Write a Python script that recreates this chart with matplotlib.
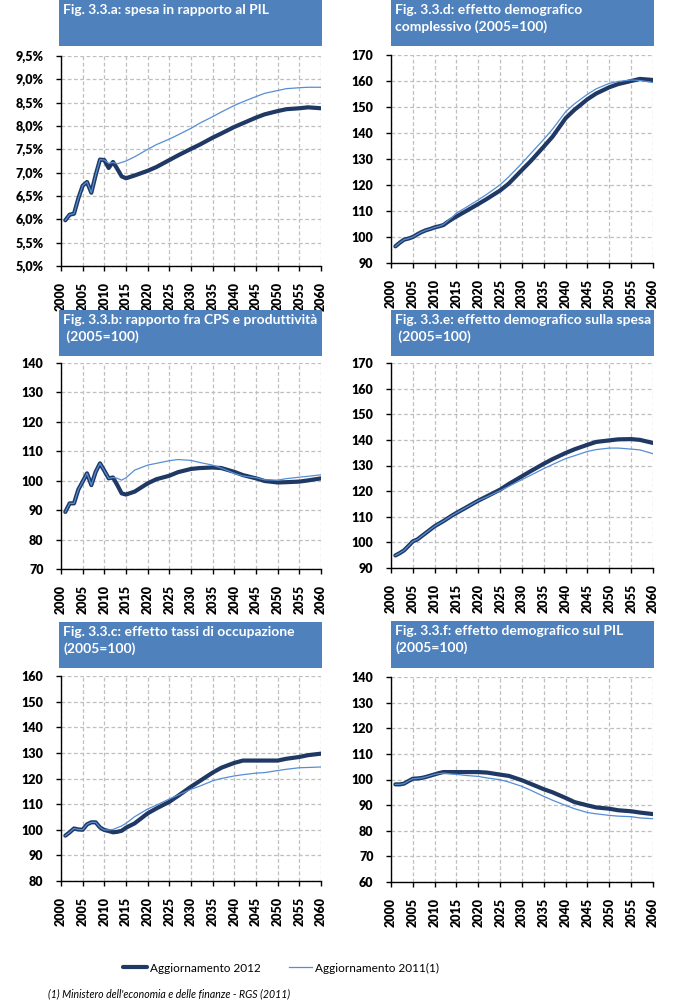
import matplotlib
matplotlib.use('Agg')
import matplotlib.pyplot as plt
from matplotlib.patches import Rectangle

plt.rcParams['font.family'] = ['Lato', 'DejaVu Sans']

# ---------------- data ----------------
years = [2001, 2002, 2003, 2004, 2005, 2006, 2007, 2008, 2009, 2010,
         2011, 2012, 2013, 2014, 2015, 2017, 2020, 2022, 2025, 2027,
         2030, 2032, 2035, 2037, 2040, 2042, 2045, 2047, 2050, 2052,
         2055, 2057, 2060]

# Fig. 3.3.a  spesa in rapporto al PIL (%)
a_2012 = [5.98, 6.10, 6.12, 6.45, 6.72, 6.80, 6.57, 6.95, 7.28, 7.27,
          7.10, 7.23, 7.08, 6.92, 6.88, 6.94, 7.04, 7.12, 7.27, 7.37,
          7.51, 7.60, 7.75, 7.84, 7.98, 8.06, 8.18, 8.25, 8.32, 8.36,
          8.38, 8.40, 8.38]
a_2011 = [5.98, 6.10, 6.12, 6.45, 6.72, 6.80, 6.57, 6.95, 7.28, 7.27,
          7.20, 7.22, 7.19, 7.22, 7.25, 7.34, 7.50, 7.60, 7.72, 7.81,
          7.95, 8.06, 8.20, 8.30, 8.44, 8.52, 8.63, 8.70, 8.76, 8.80,
          8.82, 8.83, 8.83]

# Fig. 3.3.b  rapporto fra CPS e produttivita
b_2012 = [89.4, 92.3, 92.3, 97.0, 99.7, 102.5, 98.5, 103.0, 105.9, 103.4,
          100.8, 101.1, 98.5, 95.7, 95.3, 96.3, 99.1, 100.5, 101.7, 102.9,
          104.0, 104.3, 104.5, 104.3, 103.0, 101.9, 100.8, 99.9, 99.4, 99.5,
          99.7, 100.1, 100.8]
b_2011 = [89.4, 92.3, 92.3, 97.0, 99.7, 102.5, 98.5, 103.0, 105.9, 103.4,
          100.8, 101.1, 100.8, 100.2, 101.0, 103.6, 105.3, 105.9, 106.8, 107.2,
          106.9, 106.2, 105.3, 104.3, 102.5, 101.6, 101.0, 100.3, 100.2, 100.7,
          101.2, 101.5, 102.0]

# Fig. 3.3.c  effetto tassi di occupazione
c_2012 = [97.7, 99.0, 100.5, 100.1, 100.0, 102.1, 102.9, 102.9, 100.9, 99.9,
          99.5, 99.0, 99.2, 99.6, 100.8, 102.5, 106.4, 108.3, 110.9, 113.2,
          116.8, 119.0, 122.3, 124.2, 126.1, 127.0, 127.0, 127.0, 127.0, 127.7,
          128.4, 129.1, 129.7]
c_2011 = [97.7, 99.0, 100.5, 100.1, 100.0, 102.1, 102.9, 102.9, 100.9, 99.9,
          99.9, 100.1, 100.8, 101.5, 102.5, 105.1, 108.1, 109.6, 112.0, 113.5,
          115.8, 117.0, 119.1, 120.0, 121.0, 121.5, 122.1, 122.3, 123.1, 123.6,
          124.2, 124.3, 124.5]

# Fig. 3.3.d  effetto demografico complessivo
d_2012 = [96.4, 97.8, 99.0, 99.4, 100.0, 101.0, 101.9, 102.6, 103.1, 103.7,
          104.1, 104.6, 105.8, 106.9, 107.9, 109.8, 112.7, 114.7, 117.9, 120.6,
          125.8, 129.2, 134.8, 138.6, 145.7, 148.9, 153.0, 155.2, 157.6, 158.8,
          160.0, 160.8, 160.4]
d_2011 = [96.4, 97.8, 99.0, 99.4, 100.0, 101.0, 101.9, 102.6, 103.1, 103.7,
          104.1, 104.8, 106.2, 107.6, 109.2, 111.2, 114.3, 116.5, 120.1, 123.2,
          128.4, 132.1, 137.6, 141.5, 148.2, 151.2, 154.9, 157.0, 159.1, 159.8,
          160.4, 160.2, 159.4]

# Fig. 3.3.e  effetto demografico sulla spesa
e_2012 = [94.9, 95.8, 96.9, 98.6, 100.4, 101.1, 102.4, 103.7, 105.0, 106.3,
          107.3, 108.3, 109.4, 110.5, 111.5, 113.4, 116.3, 118.0, 120.6, 122.8,
          125.8, 127.8, 130.7, 132.5, 134.9, 136.3, 138.1, 139.2, 139.8, 140.2,
          140.3, 140.0, 138.8]
e_2011 = [94.9, 95.8, 96.9, 98.6, 100.4, 101.1, 102.4, 103.7, 105.0, 106.3,
          107.3, 108.3, 109.4, 110.5, 111.5, 113.4, 116.3, 117.8, 120.2, 121.9,
          124.5, 126.2, 128.8, 130.4, 132.7, 133.8, 135.5, 136.2, 136.8, 136.8,
          136.4, 136.1, 134.6]

# Fig. 3.3.f  effetto demografico sul PIL
f_2012 = [98.1, 98.1, 98.4, 99.4, 100.3, 100.4, 100.6, 101.0, 101.5, 102.0,
          102.5, 102.9, 102.9, 102.9, 102.9, 102.9, 102.9, 102.7, 101.9, 101.4,
          99.7, 98.3, 96.2, 95.0, 92.8, 91.2, 89.9, 89.1, 88.6, 88.0,
          87.6, 87.1, 86.5]
f_2011 = [98.1, 98.1, 98.4, 99.4, 100.3, 100.4, 100.6, 101.0, 101.5, 102.0,
          102.3, 102.5, 102.3, 102.1, 102.0, 101.6, 101.2, 100.6, 99.9, 99.0,
          97.3, 95.8, 93.4, 91.9, 89.9, 88.6, 87.1, 86.6, 86.0, 85.7,
          85.5, 85.0, 84.7]

x_ticks = [2000, 2005, 2010, 2015, 2020, 2025, 2030, 2035, 2040, 2045, 2050, 2055, 2060]
a_ticks = [5.0, 5.5, 6.0, 6.5, 7.0, 7.5, 8.0, 8.5, 9.0, 9.5]
a_labels = ['5,0%', '5,5%', '6,0%', '6,5%', '7,0%', '7,5%', '8,0%', '8,5%', '9,0%', '9,5%']
b_ticks = [70, 80, 90, 100, 110, 120, 130, 140]
c_ticks = [80, 90, 100, 110, 120, 130, 140, 150, 160]
d_ticks = [90, 100, 110, 120, 130, 140, 150, 160, 170]
e_ticks = [90, 100, 110, 120, 130, 140, 150, 160, 170]
f_ticks = [60, 70, 80, 90, 100, 110, 120, 130, 140]

titles = {
    'a': 'Fig. 3.3.a: spesa in rapporto al PIL',
    'b': 'Fig. 3.3.b: rapporto fra CPS e produttività\n (2005=100)',
    'c': 'Fig. 3.3.c: effetto tassi di occupazione\n(2005=100)',
    'd': 'Fig. 3.3.d: effetto demografico\ncomplessivo (2005=100)',
    'e': 'Fig. 3.3.e: effetto demografico sulla spesa\n (2005=100)',
    'f': 'Fig. 3.3.f: effetto demografico sul PIL\n(2005=100)',
}
series_names = ['Aggiornamento 2012', 'Aggiornamento 2011(1)']
footnote = "(1) Ministero dell'economia e delle finanze - RGS (2011)"

# ---------------- layout / style ----------------
W, H = 678, 1002
DARK = '#1F3864'
LIGHT = '#558ED5'
BOX = '#4F81BD'

fig = plt.figure(figsize=(W / 100, H / 100), dpi=100)


def rect(x0, y0, x1, y1):
    return [x0 / W, 1 - y1 / H, (x1 - x0) / W, (y1 - y0) / H]


panels = [
    ('a', a_2012, a_2011, a_ticks, a_labels, (61, 56, 321, 266), (59, 0, 322, 46)),
    ('d', d_2012, d_2011, d_ticks, None, (391, 55, 653, 263), (391, 0, 654, 46)),
    ('b', b_2012, b_2011, b_ticks, None, (61, 363, 321, 569), (59, 310, 322, 356)),
    ('e', e_2012, e_2011, e_ticks, None, (391, 363, 653, 568), (391, 310, 654, 356)),
    ('c', c_2012, c_2011, c_ticks, None, (61, 676, 321, 881), (59, 622, 322, 668)),
    ('f', f_2012, f_2011, f_ticks, None, (391, 677, 653, 882), (391, 621, 654, 668)),
]

handles = None
for key, s12, s11, yt, ylab, abox, tbox in panels:
    ax = fig.add_axes(rect(*abox))
    l1, = ax.plot(years, s12, color=DARK, lw=3.0, solid_joinstyle='round',
                  solid_capstyle='round', zorder=3)
    l2, = ax.plot(years, s11, color=LIGHT, lw=0.9, solid_joinstyle='round', zorder=4)
    handles = [l1, l2]
    ax.set_xlim(2000, 2060)
    ax.set_ylim(yt[0], yt[-1])
    ax.set_xticks(x_ticks)
    ax.set_xticklabels([str(v) for v in x_ticks], rotation=90, fontsize=9,
                       fontweight='heavy')
    ax.set_yticks(yt)
    if ylab is None:
        ylab = [str(v) for v in yt]
    ax.set_yticklabels(ylab, fontsize=9, fontweight='heavy')
    ax.grid(True, color='#BFBFBF', linestyle=(0, (3, 2)), linewidth=0.9)
    ax.set_axisbelow(True)
    for s in ('top', 'right'):
        ax.spines[s].set_visible(False)
    for s in ('left', 'bottom'):
        ax.spines[s].set_color('black')
        ax.spines[s].set_linewidth(1.0)
    ax.tick_params(axis='both', direction='out', length=3.6, width=1.0,
                   color='black')
    ax.tick_params(axis='y', pad=9)
    ax.tick_params(axis='x', pad=8)
    # title box
    x0, y0, x1, y1 = tbox
    fig.patches.append(Rectangle((x0 / W, 1 - y1 / H), (x1 - x0) / W, (y1 - y0) / H,
                                 transform=fig.transFigure, facecolor=BOX,
                                 edgecolor='none', zorder=0))
    fig.text((x0 + 4) / W, 1 - (y0 + 4) / H, titles[key], color='white',
             fontsize=10, fontweight='bold', va='top', ha='left',
             linespacing=1.45)

fig.legend(handles, series_names, loc='center left',
           bbox_to_anchor=(123 / W, 1 - 968 / H),
           ncol=2, frameon=False, fontsize=8.5, handlelength=2.0,
           columnspacing=2.4, handletextpad=0.25, borderpad=0,
           borderaxespad=0)
fig.text(48 / W, 1 - 994 / H, footnote, fontsize=7.6, style='italic',
         va='center', ha='left')

fig.savefig('out.png', dpi=100)
